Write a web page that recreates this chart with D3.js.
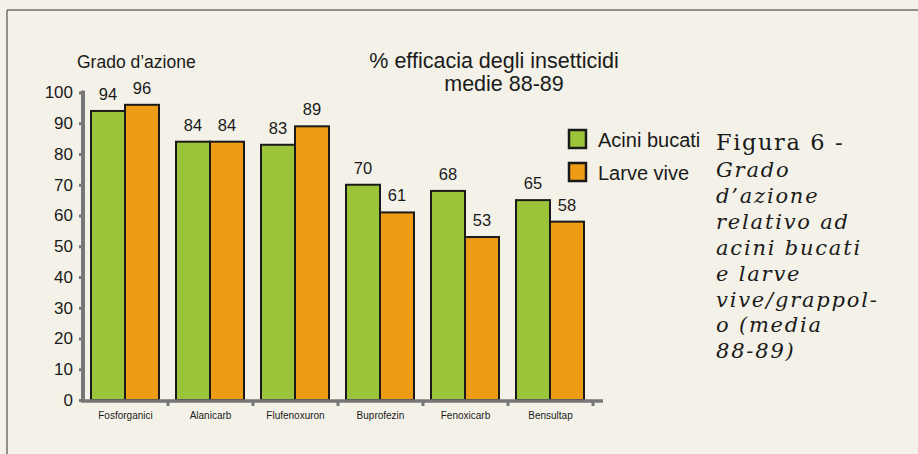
<!DOCTYPE html>
<html><head><meta charset="utf-8">
<script src="https://cdn.jsdelivr.net/npm/d3@7"></script>
<style>
html,body{margin:0;padding:0;background:#f4f2e8;}
svg{display:block;}
</style></head>
<body>
<svg id="c" width="918" height="454"></svg>
<script>
const categories = ["Fosforganici","Alanicarb","Flufenoxuron","Buprofezin","Fenoxicarb","Bensultap"];
const seriesNames = ["Acini bucati","Larve vive"];
const aciniBucati = [94,84,83,70,68,65];
const larveVive = [96,84,89,61,53,58];
const yTicks = [0,10,20,30,40,50,60,70,80,90,100];
const colors = ["#9cc43a","#ee9c16"];
const captionLines = ["Grado","d’azione","relativo ad","acini bucati","e larve","vive/grappol-","o (media","88-89)"];

const svg = d3.select("#c");
const sans = "Liberation Sans, Arial, sans-serif";

// frame
svg.append("line").attr("x1",7).attr("x2",918).attr("y1",10).attr("y2",10).attr("stroke","#6f6f6f").attr("stroke-width",1.5);
svg.append("line").attr("x1",7).attr("x2",7).attr("y1",10).attr("y2",454).attr("stroke","#6f6f6f").attr("stroke-width",1.5);

const x0 = d3.scaleBand().domain(categories).range([83,593]).paddingInner(0).paddingOuter(0);
const x1 = d3.scaleBand().domain(seriesNames).range([8, x0.bandwidth()-9]);
const y = d3.scaleLinear().domain([0,100]).range([400,92.5]);

const data = categories.map((c,i)=>({cat:c, vals:[aciniBucati[i], larveVive[i]]}));

// bars
const g = svg.append("g");
data.forEach(d=>{
  d.vals.forEach((v,j)=>{
    const bx = x0(d.cat)+x1(seriesNames[j]);
    g.append("rect").attr("x",bx).attr("y",y(v)).attr("width",x1.bandwidth()).attr("height",y(0)-y(v))
      .attr("fill",colors[j]).attr("stroke","#1a1a1a").attr("stroke-width",2);
    g.append("text").attr("x",bx+x1.bandwidth()/2).attr("y",y(v)-11).attr("text-anchor","middle")
      .attr("font-family",sans).attr("font-size",16.5).attr("fill","#1a1a1a").text(v);
  });
});

// y axis
const yAxis = d3.axisLeft(y).tickValues(yTicks).tickSize(4).tickPadding(6);
const ya = svg.append("g").attr("transform","translate(83,0)").call(yAxis);
ya.select(".domain").attr("stroke","#777").attr("stroke-width",4).attr("d","M0,"+(y(100)-2)+"V"+(y(0)+2));
ya.selectAll(".tick line").attr("stroke","#777").attr("stroke-width",3);
ya.selectAll(".tick text").attr("font-family",sans).attr("font-size",17).attr("fill","#1a1a1a");

// x axis
const xAxis = d3.axisBottom(x0).tickSize(0).tickPadding(11);
const xa = svg.append("g").attr("transform","translate(0,401)").call(xAxis);
xa.select(".domain").attr("stroke","#777").attr("stroke-width",3.5).attr("d","M81,0H603");
xa.selectAll(".tick text").attr("font-family",sans).attr("font-size",10).attr("fill","#1a1a1a");
// boundary knobs
const bounds = categories.map(c=>x0(c)).concat([x0.range()[1]]);
xa.selectAll(".knob").data(bounds.slice(1)).enter().append("line").attr("class","knob")
  .attr("x1",d=>d).attr("x2",d=>d).attr("y1",0).attr("y2",5).attr("stroke","#777").attr("stroke-width",3);

// titles
svg.append("text").attr("x",77).attr("y",68).attr("font-family",sans).attr("font-size",17.5).attr("fill","#1a1a1a").text("Grado d’azione");
svg.append("text").attr("x",494).attr("y",68).attr("text-anchor","middle").attr("font-family",sans).attr("font-size",21.5).attr("fill","#1a1a1a").text("% efficacia degli insetticidi");
svg.append("text").attr("x",504).attr("y",91).attr("text-anchor","middle").attr("font-family",sans).attr("font-size",21.5).attr("fill","#1a1a1a").text("medie 88-89");

// legend
seriesNames.forEach((s,i)=>{
  const ly = 130 + i*33;
  svg.append("rect").attr("x",569).attr("y",ly).attr("width",17).attr("height",18).attr("fill",colors[i]).attr("stroke","#1a1a1a").attr("stroke-width",2.5);
  svg.append("text").attr("x",598).attr("y",ly+17).attr("font-family",sans).attr("font-size",20).attr("fill","#1a1a1a").text(s);
});

// caption
const serif = "DejaVu Serif, Liberation Serif, serif";
svg.append("text").attr("x",716).attr("y",150).attr("font-family",serif).attr("font-size",22.5).attr("letter-spacing",1.6).attr("fill","#1a1a1a").text("Figura 6 -");
captionLines.forEach((t,i)=>{
  svg.append("text").attr("x",716).attr("y",177+i*25.9).attr("font-family",serif).attr("font-style","italic")
    .attr("font-size",21).attr("letter-spacing",1.8).attr("fill","#1a1a1a").text(t);
});
</script>
</body></html>
